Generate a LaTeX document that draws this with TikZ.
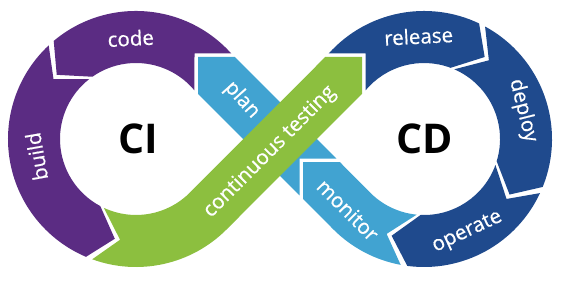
\documentclass[tikz,border=0pt]{standalone}
\usepackage{fontspec}
\setsansfont{Open Sans}
\newfontfamily\steplabelfont[FakeBold=0.6]{Open Sans}
\usetikzlibrary{calc}
\definecolor{cpurple}{HTML}{5B2C83}
\definecolor{cgreen}{HTML}{8CBF3F}
\definecolor{clight}{HTML}{41A3D1}
\definecolor{cdark}{HTML}{1F4A8D}
\tikzset{
  every picture/.style={font=\sffamily},
  band/.style={fill=#1, draw=none},
  steplabel/.style={text=white, inner sep=0pt, font=\steplabelfont\fontsize{20.5}{20.5}\selectfont},
  hub/.style={text=black, inner sep=0pt, font=\sffamily\bfseries\fontsize{41}{41}\selectfont},
}

\begin{document}
\begin{tikzpicture}[x=1pt, y=1pt]
  \useasboundingbox (-280,-142) rectangle (281,139);
  % the two rings of the loop
  \coordinate (ci) at (-144,0);
  \coordinate (cd) at (144,0);

  % blue diagonal first, the green one runs over it
  \fill[band=clight] ([shift={(-111.5:102)}]cd) -- ([shift={(-100.5:128)}]cd)
    arc[start angle=-100.5, end angle=-135, radius=128] -- (23,-59.77) -- (23,-23)
    -- (59.77,-23) -- (90.26,-53.74) arc[start angle=-135, end angle=-95.5, radius=76] -- cycle;
  \fill[band=clight] (19.5,-19.5) -- (56.27,-19.5) -- (-45.23,82) -- (-82,82) -- (-82,45.23)
    -- (19.5,-56.27) -- cycle;

  % CI ring
  \fill[band=cpurple] (-85.5,85.5) -- (-48.74,85.5) arc[start angle=41.9, end angle=130, radius=128]
    -- ([shift={(141:102)}]ci) -- ([shift={(125:76)}]ci) arc[start angle=125, end angle=39.67, radius=76] -- cycle;
  \fill[band=cpurple] ([shift={(144:102)}]ci) -- ([shift={(133:128)}]ci) arc[start angle=133, end angle=247, radius=128]
    -- ([shift={(258:102)}]ci) -- ([shift={(242:76)}]ci) arc[start angle=242, end angle=128, radius=76] -- cycle;
  \fill[band=cgreen] ([shift={(261:102)}]ci) -- ([shift={(250:128)}]ci) arc[start angle=250, end angle=315, radius=128]
    -- (82,45.23) -- (82,82) -- (45.23,82) -- (-90.26,-53.74) arc[start angle=315, end angle=245, radius=76] -- cycle;

  % CD ring
  \fill[band=cdark] (85.5,85.5) -- (48.74,85.5) arc[start angle=138.1, end angle=64.5, radius=128]
    -- ([shift={(53.5:102)}]cd) -- ([shift={(69.5:76)}]cd) arc[start angle=69.5, end angle=140.33, radius=76] -- cycle;
  \fill[band=cdark] ([shift={(50.5:102)}]cd) -- ([shift={(61.5:128)}]cd) arc[start angle=61.5, end angle=-22, radius=128]
    -- ([shift={(-33:102)}]cd) -- ([shift={(-17:76)}]cd) arc[start angle=-17, end angle=66.5, radius=76] -- cycle;
  \fill[band=cdark] ([shift={(-36:102)}]cd) -- ([shift={(-25:128)}]cd) arc[start angle=-25, end angle=-97.5, radius=128]
    -- ([shift={(-108.5:102)}]cd) -- ([shift={(-92.5:76)}]cd) arc[start angle=-92.5, end angle=-20, radius=76] -- cycle;

  % labels
  \node[hub] (ci-label) at ([shift={(2,0)}]ci) {CI};
  \node[hub] (cd-label) at ([shift={(1,0)}]cd) {CD};
  \node[steplabel, rotate=3] (code) at ([shift={(93:101)}]ci) {code};
  \node[steplabel, rotate=100] (build) at ([shift={(190:101)}]ci) {build};
  \node[steplabel, rotate=45] (testing) at (-10,-13) {continuous testing};
  \node[steplabel, rotate=-48] (plan) at (-38,39) {plan};
  \node[steplabel, rotate=3] (release) at ([shift={(93:103)}]cd) {release};
  \node[steplabel, rotate=-76] (deploy) at ([shift={(16:103)}]cd) {deploy};
  \node[steplabel, rotate=25] (operate) at ([shift={(295:103)}]cd) {operate};
  \node[steplabel, rotate=-45] (monitor) at ([shift={(223:104)}]cd) {monitor};
\end{tikzpicture}
\end{document}
